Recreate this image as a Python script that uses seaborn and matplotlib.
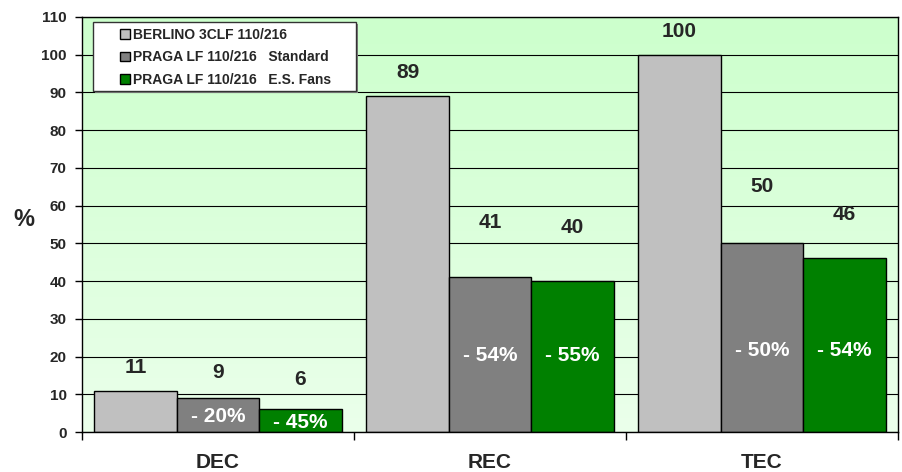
import numpy as np
import pandas as pd
import matplotlib.pyplot as plt
import seaborn as sns
from matplotlib.patches import Rectangle
from matplotlib.colors import LinearSegmentedColormap

# chart data
categories = ['DEC', 'REC', 'TEC']
series = ['BERLINO 3CLF 110/216', 'PRAGA LF 110/216   Standard', 'PRAGA LF 110/216   E.S. Fans']
berlino = [11, 89, 100]
praga_std = [9, 41, 50]
praga_es = [6, 40, 46]
# reductions vs BERLINO, written inside the PRAGA bars
red_std = ['- 20%', '- 54%', '- 50%']
red_es = ['- 45%', '- 55%', '- 54%']

colors = ['#c0c0c0', '#808080', '#008000']
# how far above the bar top each value label sits (data units)
label_gap = [[6.2, 6.2, 6.2], [6.8, 14.4, 15.0], [7.8, 14.2, 11.6]]
# height of the white % labels inside the bars
inner_y = [[4.0, 20.4, 21.7], [2.4, 20.4, 21.7]]

df = pd.DataFrame({
    'cat': categories * 3,
    'series': [s for s in series for _ in categories],
    'val': berlino + praga_std + praga_es,
})

sns.set_style('white')
plt.rcParams['font.family'] = ['Liberation Sans', 'DejaVu Sans']
plt.rcParams['font.weight'] = 'bold'

fig = plt.figure(figsize=(9.03, 4.72), dpi=100)
ax = fig.add_axes([0.0908, 0.0847, 0.9037, 0.8793])

# green gradient background of the plot area
cmap = LinearSegmentedColormap.from_list('bg', ['#ebffeb', '#ccffcc'])
ax.imshow(np.linspace(0, 1, 256).reshape(-1, 1), cmap=cmap, origin='lower',
          extent=(-0.5, 2.5, 0, 110), aspect='auto', zorder=0)

sns.barplot(data=df, x='cat', y='val', hue='series', palette=colors, width=0.91,
            edgecolor='black', linewidth=1, saturation=1, ax=ax, zorder=2)
handles, labels = ax.get_legend_handles_labels()
ax.get_legend().remove()

ax.set_xlim(-0.5, 2.5)
ax.set_ylim(0, 110)
ax.set_yticks(range(0, 111, 10))
ax.yaxis.grid(True, color='black', linewidth=0.8)
ax.set_axisbelow(True)

ax.set_xticks([-0.5, 0.5, 1.5, 2.5])
ax.set_xticklabels([])
ax.set_xticks([0, 1, 2], minor=True)
ax.set_xticklabels(categories, minor=True, fontsize=15, fontweight='bold')
ax.tick_params(axis='x', which='major', direction='out', length=6, width=1, color='black', bottom=True)
ax.tick_params(axis='x', which='minor', length=0, pad=15)
ax.tick_params(axis='y', direction='out', length=5, width=1, color='black', left=True,
               labelsize=11, pad=6)
for t in ax.get_yticklabels():
    t.set_fontweight('bold')

ax.set_xlabel('')
ax.set_ylabel('%', rotation=0, fontsize=17, fontweight='bold', va='center', ha='center')
ax.yaxis.set_label_coords(-0.0717, 0.513)
for sp in ax.spines.values():
    sp.set_color('black')
    sp.set_linewidth(1)

# value labels above bars and % reductions inside
for i, cont in enumerate(ax.containers):
    for j, bar in enumerate(cont):
        xc = bar.get_x() + bar.get_width() / 2
        h = bar.get_height()
        ax.text(xc, h + label_gap[i][j], f'{h:.0f}', ha='center', va='center',
                fontsize=15, fontweight='bold', zorder=5)
        if i > 0:
            txt = (red_std if i == 1 else red_es)[j]
            ax.text(xc, inner_y[i - 1][j], txt, ha='center', va='center',
                    fontsize=15, fontweight='bold', color='white', zorder=5)

# legend box
ax.add_patch(Rectangle((0.0160, 0.8170), 0.3223, 0.1663, transform=ax.transAxes,
                       facecolor='#808080', edgecolor='none', zorder=4))
ax.add_patch(Rectangle((0.0135, 0.8217), 0.3223, 0.1663, transform=ax.transAxes,
                       facecolor='white', edgecolor='#333333', linewidth=1, zorder=4))
ax.legend(handles, labels, loc='upper left', bbox_to_anchor=(0.047, 0.974), frameon=False,
          borderpad=0, borderaxespad=0, handlelength=0.7, handleheight=0.7,
          handletextpad=0.2, labelspacing=0.62, prop={'size': 10, 'weight': 'bold'})
ax.get_legend().set_zorder(6)

fig.savefig('out.png', dpi=100)
